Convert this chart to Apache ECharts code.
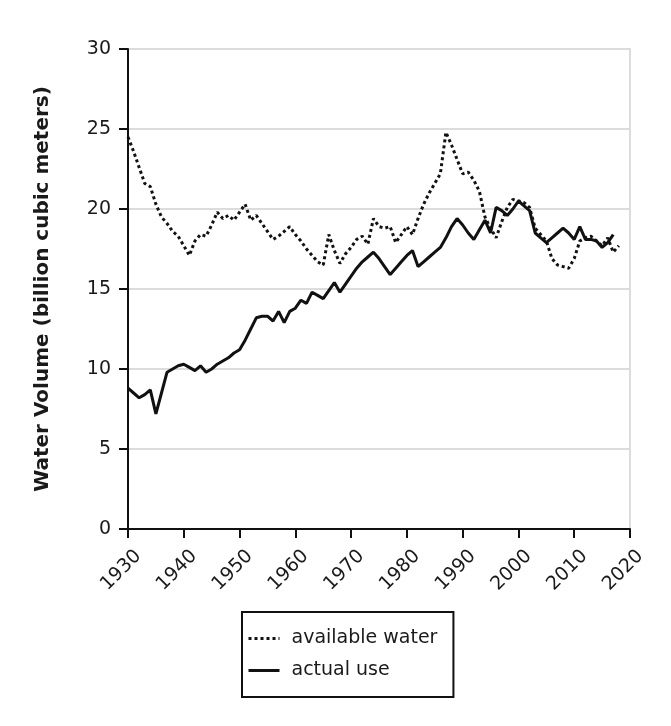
<!DOCTYPE html>
<html>
<head>
<meta charset="utf-8">
<script src="https://cdn.jsdelivr.net/npm/echarts@6/dist/echarts.min.js"></script>
<style>
	html, body { margin: 0; padding: 0; background: #fff; }
	#chart { width: 671px; height: 726px; }
</style>
</head>
<body>
<div id="chart"></div>
<script>
// years and values
var years = [];
for (var y = 1930; y <= 2018; y++) years.push(y);

var availableWater = [
	24.5, 23.6, 22.6, 21.6, 21.4, 20.3, 19.5, 19.1, 18.6, 18.3,
	17.7, 17.1, 18.0, 18.4, 18.3, 19.0, 19.8, 19.4, 19.6, 19.3,
	19.8, 20.3, 19.3, 19.6, 19.1, 18.6, 18.1, 18.3, 18.6, 18.9,
	18.4, 18.0, 17.5, 17.1, 16.7, 16.5, 18.4, 17.4, 16.6, 17.2,
	17.6, 18.1, 18.3, 17.8, 19.4, 18.9, 18.8, 18.9, 17.9, 18.4,
	18.9, 18.4, 19.4, 20.3, 21.0, 21.6, 22.2, 24.8, 24.0, 23.1,
	22.2, 22.3, 21.8, 21.1, 19.5, 18.8, 18.2, 19.2, 20.1, 20.6,
	20.5, 20.4, 20.1, 18.8, 18.4, 18.0, 16.9, 16.5, 16.4, 16.3,
	16.9, 18.0, 18.2, 18.3, 18.0, 17.7, 18.2, 17.3, 17.7
];

var actualUse = [
	8.8, 8.5, 8.2, 8.4, 8.7, 7.2, 8.5, 9.8, 10.0, 10.2,
	10.3, 10.1, 9.9, 10.2, 9.8, 10.0, 10.3, 10.5, 10.7, 11.0,
	11.2, 11.8, 12.5, 13.2, 13.3, 13.3, 13.0, 13.6, 12.9, 13.6,
	13.8, 14.3, 14.1, 14.8, 14.6, 14.4, 14.9, 15.4, 14.8, 15.3,
	15.8, 16.3, 16.7, 17.0, 17.3, 16.9, 16.4, 15.9, 16.3, 16.7,
	17.1, 17.4, 16.4, 16.7, 17.0, 17.3, 17.6, 18.2, 18.9, 19.4,
	19.0, 18.5, 18.1, 18.7, 19.3, 18.5, 20.1, 19.9, 19.6, 20.0,
	20.5, 20.2, 19.9, 18.5, 18.2, 17.9, 18.2, 18.5, 18.8, 18.5,
	18.1, 18.9, 18.1, 18.1, 18.0, 17.6, 17.9, 18.4
];

var seriesNames = ['available water', 'actual use'];
var yAxisTitle = 'Water Volume (billion cubic meters)';

function pairs(xs, vs) {
	var out = [];
	for (var i = 0; i < vs.length; i++) out.push([xs[i], vs[i]]);
	return out;
}

var fontFamily = '"DejaVu Sans", Verdana, sans-serif';
var textColor = '#1a1a1a';

var chart = echarts.init(document.getElementById('chart'));

chart.setOption({
	animation: false,
	backgroundColor: '#fff',
	grid: {
		left: 128,
		right: 41,
		top: 49,
		bottom: 197,
		show: true,
		borderColor: '#dcdcdc',
		borderWidth: 2
	},
	legend: {
		data: seriesNames,
		orient: 'vertical',
		left: 242,
		top: 612,
		itemWidth: 31,
		itemHeight: 14,
		itemGap: 13,
		padding: [17, 16, 17, 5],
		borderColor: '#111',
		borderWidth: 2,
		itemStyle: { opacity: 0 },
		lineStyle: { width: 3 },
		textStyle: {
			fontFamily: fontFamily,
			fontSize: 19,
			color: textColor,
			padding: [0, 0, 0, 7]
		}
	},
	xAxis: {
		type: 'value',
		min: 1930,
		max: 2020,
		interval: 10,
		axisLine: { show: true, lineStyle: { color: '#111', width: 2 } },
		axisTick: { show: true, length: 9, lineStyle: { color: '#111', width: 2 } },
		splitLine: { show: false },
		axisLabel: {
			rotate: 45,
			margin: 14,
			verticalAlign: 'top',
			padding: [5, 0, 0, 0],
			fontFamily: fontFamily,
			fontSize: 19,
			color: textColor,
			formatter: function (v) { return String(v); }
		}
	},
	yAxis: {
		type: 'value',
		min: 0,
		max: 30,
		interval: 5,
		name: yAxisTitle,
		nameLocation: 'middle',
		nameRotate: 90,
		nameGap: 75,
		nameTextStyle: {
			fontFamily: fontFamily,
			fontSize: 20,
			fontWeight: 'bold',
			color: textColor
		},
		axisLine: { show: true, lineStyle: { color: '#111', width: 2 } },
		axisTick: { show: true, length: 9, lineStyle: { color: '#111', width: 2 } },
		splitLine: { show: true, lineStyle: { color: '#dcdcdc', width: 2 } },
		axisLabel: {
			margin: 17,
			fontFamily: fontFamily,
			fontSize: 19,
			color: textColor
		}
	},
	series: [
		{
			name: seriesNames[0],
			type: 'line',
			data: pairs(years, availableWater),
			symbol: 'none',
			lineStyle: { color: '#111', width: 3, type: [3, 3] },
			itemStyle: { color: '#111' },
			z: 3
		},
		{
			name: seriesNames[1],
			type: 'line',
			data: pairs(years, actualUse),
			symbol: 'none',
			lineStyle: { color: '#111', width: 3, type: 'solid' },
			itemStyle: { color: '#111' },
			z: 4
		}
	]
});
</script>
</body>
</html>
